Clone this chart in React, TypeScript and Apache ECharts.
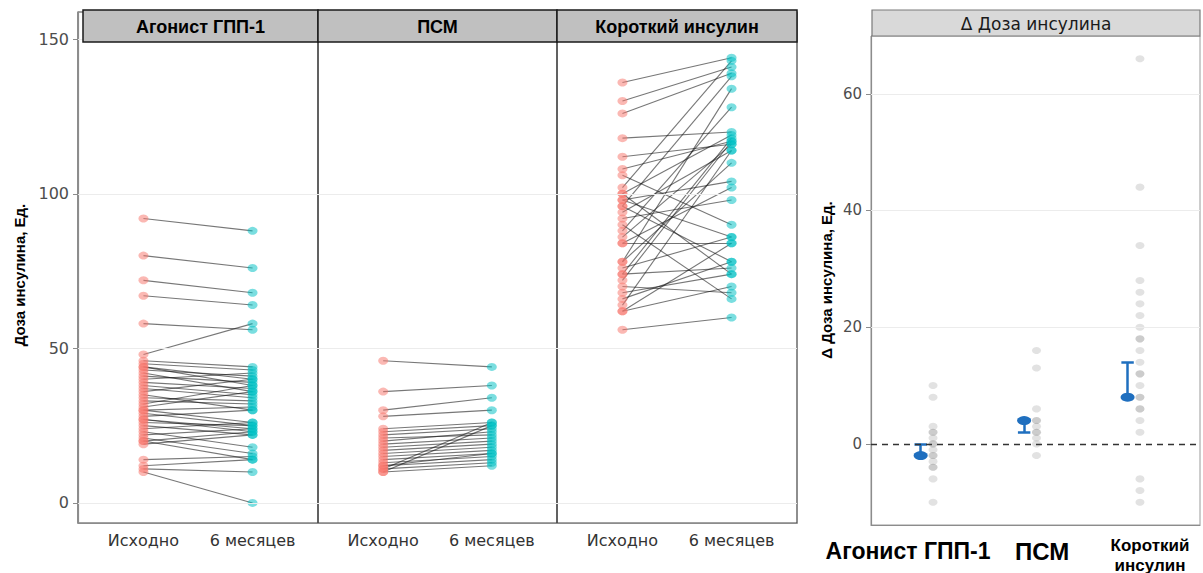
import React, { useEffect, useRef } from "react";
import * as echarts from "echarts";

const panelNames = ["Агонист ГПП-1", "ПСМ", "Короткий инсулин"];
const timeLabels = ["Исходно", "6 месяцев"];
const doseTicks = [0, 50, 100, 150];
const deltaTicks = [0, 20, 40, 60];
const doseAxisTitle = "Доза инсулина, Ед.";
const deltaAxisTitle = "Δ Доза инсулина, Ед.";
const deltaStripTitle = "Δ Доза инсулина";
const deltaCategoryLabels = ["Агонист ГПП-1", "ПСМ", "Короткий\nинсулин"];

const glpBaseline = [92, 80, 72, 67, 58, 48, 46, 45, 44, 44, 43, 42, 41, 40, 39, 38, 37, 36, 35, 34, 33, 32, 31, 30, 30, 29, 28, 27, 27, 26, 25, 24, 23, 22, 21, 20, 20, 19, 14, 12, 11, 10];
const glpSixMonths = [88, 76, 68, 64, 56, 58, 44, 43, 40, 38, 41, 36, 39, 42, 37, 35, 34, 40, 30, 33, 32, 38, 36, 31, 26, 25, 30, 24, 23, 25, 22, 26, 18, 24, 16, 23, 14, 22, 15, 14, 10, 0];

const psmBaseline = [46, 36, 30, 28, 24, 23, 22, 21, 20, 19, 18, 17, 16, 15, 14, 13, 12, 12, 11, 11, 10, 10];
const psmSixMonths = [44, 38, 34, 30, 26, 25, 24, 22, 23, 21, 20, 19, 18, 17, 16, 15, 14, 16, 26, 13, 25, 12];

const shortBaseline = [136, 130, 126, 118, 112, 108, 106, 102, 100, 98, 96, 94, 92, 88, 86, 84, 84, 78, 78, 76, 74, 72, 70, 68, 66, 64, 62, 62, 56, 90, 100, 96, 74, 98];
const shortSixMonths = [144, 141, 139, 120, 116, 117, 90, 143, 119, 104, 138, 114, 98, 128, 116, 84, 102, 134, 110, 86, 76, 117, 68, 74, 78, 114, 70, 84, 60, 66, 74, 78, 118, 86];

const glpDelta = [10, 8, 3, 2, 2, 1, 0, 0, -1, -2, -2, -3, -4, -4, -6, -10];
const psmDelta = [16, 13, 6, 4, 4, 3, 2, 2, 1, 0, -2];
const shortDelta = [66, 44, 34, 28, 26, 24, 22, 20, 18, 18, 16, 14, 12, 12, 10, 8, 8, 6, 6, 4, 2, -6, -8, -10];

const deltaPoint = [-2, 4, 8];
const deltaBarEnd = [0, 2, 14];

const FONT = "'DejaVu Sans', sans-serif";
const BOLD = "'Liberation Sans', Arial, sans-serif";
const RED = "#F8766D";
const CYAN = "#00BFC4";
const BLUE = "#1f6fbf";

function buildOption() {
  const panels = [
    { before: glpBaseline, after: glpSixMonths },
    { before: psmBaseline, after: psmSixMonths },
    { before: shortBaseline, after: shortSixMonths },
  ];
  const panelLeft = [78, 318, 557];
  const panelWidth = [240, 239, 240];
  const deltas = [glpDelta, psmDelta, shortDelta];

  const grid: any[] = panelLeft.map((l, i) => ({
    left: l,
    top: 12,
    width: panelWidth[i],
    height: 511,
    show: true,
    borderColor: "#444",
    borderWidth: 1.2,
    outerBoundsMode: "none",
  }));
  grid.push({
    left: 871,
    top: 36,
    width: 329,
    height: 489,
    show: true,
    borderColor: "#9a9a9a",
    borderWidth: 1,
    outerBoundsMode: "none",
  });

  const xAxis: any[] = panelLeft.map((_, i) => ({
    type: "value",
    gridIndex: i,
    min: -0.6,
    max: 1.6,
    splitLine: { show: false },
    axisTick: { show: false },
    axisLine: { show: true, onZero: false, lineStyle: { color: "#8c8c8c", width: 1.2 } },
    axisLabel: {
      customValues: [0, 1],
      formatter: (v: number) => (v === 0 ? timeLabels[0] : v === 1 ? timeLabels[1] : ""),
      fontFamily: FONT,
      fontSize: 16,
      color: "#333",
      margin: 9,
    },
  }));
  xAxis.push({
    type: "value",
    gridIndex: 3,
    min: -0.54,
    max: 2.64,
    splitLine: { show: false },
    axisTick: { show: false },
    axisLabel: { show: false },
    axisLine: { show: true, onZero: false, lineStyle: { color: "#8c8c8c", width: 1.2 } },
  });

  const yAxis: any[] = panelLeft.map((_, i) => ({
    type: "value",
    gridIndex: i,
    min: -6.5,
    max: 158.8,
    splitLine: { show: false },
    axisLine: { show: i === 0, onZero: false, lineStyle: { color: "#8c8c8c", width: 1.2 } },
    axisTick: { show: i === 0, customValues: doseTicks, length: 5, lineStyle: { color: "#8c8c8c" } },
    axisLabel: {
      show: i === 0,
      customValues: doseTicks,
      fontFamily: FONT,
      fontSize: 16,
      color: "#4d4d4d",
      margin: 9,
    },
  }));
  yAxis.push({
    type: "value",
    gridIndex: 3,
    min: -13.9,
    max: 69.9,
    splitLine: { show: false },
    axisLine: { show: true, onZero: false, lineStyle: { color: "#8c8c8c", width: 1.2 } },
    axisTick: { show: true, customValues: deltaTicks, length: 5, lineStyle: { color: "#8c8c8c" } },
    axisLabel: {
      customValues: deltaTicks,
      fontFamily: FONT,
      fontSize: 15,
      color: "#4d4d4d",
      margin: 9,
    },
  });

  const series: any[] = [];
  panels.forEach((p, i) => {
    series.push({
      type: "scatter",
      xAxisIndex: i,
      yAxisIndex: i,
      data: [],
      z: 1,
      silent: true,
      markLine: {
        silent: true,
        symbol: ["none", "none"],
        label: { show: false },
        lineStyle: { color: "#ececec", type: "solid", width: 1 },
        data: doseTicks.map((v) => ({ yAxis: v })),
      },
    });
    series.push({
      type: "lines",
      coordinateSystem: "cartesian2d",
      xAxisIndex: i,
      yAxisIndex: i,
      z: 2,
      silent: true,
      lineStyle: { color: "rgba(20,20,20,0.58)", width: 1.1, opacity: 1 },
      data: p.before.map((b, k) => ({ coords: [[0, b], [1, p.after[k]]] })),
    });
    series.push({
      type: "scatter",
      xAxisIndex: i,
      yAxisIndex: i,
      z: 3,
      symbolSize: [10, 8],
      itemStyle: { color: RED, opacity: 0.52 },
      data: p.before.map((b) => [0, b]),
    });
    series.push({
      type: "scatter",
      xAxisIndex: i,
      yAxisIndex: i,
      z: 3,
      symbolSize: [10, 8],
      itemStyle: { color: CYAN, opacity: 0.52 },
      data: p.after.map((a) => [1, a]),
    });
  });

  // right panel
  series.push({
    type: "scatter",
    xAxisIndex: 3,
    yAxisIndex: 3,
    data: [],
    z: 1,
    silent: true,
    markLine: {
      silent: true,
      symbol: ["none", "none"],
      label: { show: false },
      lineStyle: { color: "#ececec", type: "solid", width: 1 },
      data: deltaTicks.filter((v) => v !== 0).map((v) => ({ yAxis: v })),
    },
  });
  series.push({
    type: "scatter",
    xAxisIndex: 3,
    yAxisIndex: 3,
    data: [],
    z: 2,
    silent: true,
    markLine: {
      silent: true,
      symbol: ["none", "none"],
      label: { show: false },
      lineStyle: { color: "#333", type: [6, 5], width: 1.3 },
      data: [{ yAxis: 0 }],
    },
  });
  const grayPts: number[][] = [];
  deltas.forEach((arr, g) => arr.forEach((v) => grayPts.push([g + 0.06, v])));
  series.push({
    type: "scatter",
    xAxisIndex: 3,
    yAxisIndex: 3,
    z: 3,
    symbolSize: [9, 7],
    itemStyle: { color: "#8a8a8a", opacity: 0.25 },
    data: grayPts,
  });
  const barData: any[] = [];
  deltaPoint.forEach((pt, g) => {
    const x = g - 0.06;
    barData.push({ coords: [[x, pt], [x, deltaBarEnd[g]]] });
    barData.push({ coords: [[x - 0.06, deltaBarEnd[g]], [x + 0.06, deltaBarEnd[g]]] });
  });
  series.push({
    type: "lines",
    coordinateSystem: "cartesian2d",
    xAxisIndex: 3,
    yAxisIndex: 3,
    z: 4,
    silent: true,
    lineStyle: { color: BLUE, width: 2.5, opacity: 1 },
    data: barData,
  });
  series.push({
    type: "scatter",
    xAxisIndex: 3,
    yAxisIndex: 3,
    z: 5,
    symbol: "circle",
    symbolSize: [14, 9],
    itemStyle: { color: BLUE, opacity: 1 },
    data: deltaPoint.map((v, g) => [g - 0.06, v]),
  });

  const stripX = [83, 318, 557];
  const stripW = [235, 239, 240];
  const graphic: any[] = [];
  panelNames.forEach((name, i) => {
    graphic.push({
      type: "rect",
      z: 100,
      shape: { x: stripX[i], y: 10, width: stripW[i], height: 32 },
      style: { fill: "#c0c0c0", stroke: "#1a1a1a", lineWidth: 1.5 },
    });
    graphic.push({
      type: "text",
      z: 101,
      x: stripX[i] + stripW[i] / 2,
      y: 26.5,
      style: {
        text: name,
        fontFamily: BOLD,
        fontWeight: "bold",
        fontSize: 18,
        fill: "#000",
        align: "center",
        verticalAlign: "middle",
      },
    });
  });
  graphic.push({
    type: "rect",
    z: 100,
    shape: { x: 872, y: 10, width: 328, height: 26 },
    style: { fill: "#d9d9d9", stroke: "#7a7a7a", lineWidth: 1.2 },
  });
  graphic.push({
    type: "text",
    z: 101,
    x: 1036,
    y: 23.5,
    style: {
      text: deltaStripTitle,
      fontFamily: FONT,
      fontSize: 17,
      fill: "#1a1a1a",
      align: "center",
      verticalAlign: "middle",
    },
  });
  graphic.push({
    type: "text",
    z: 101,
    x: 19,
    y: 275,
    rotation: Math.PI / 2,
    style: {
      text: doseAxisTitle,
      fontFamily: BOLD,
      fontWeight: "bold",
      fontSize: 15,
      fill: "#000",
      align: "center",
      verticalAlign: "middle",
    },
  });
  graphic.push({
    type: "text",
    z: 101,
    x: 826,
    y: 280,
    rotation: Math.PI / 2,
    style: {
      text: deltaAxisTitle,
      fontFamily: BOLD,
      fontWeight: "bold",
      fontSize: 15,
      fill: "#000",
      align: "center",
      verticalAlign: "middle",
    },
  });
  const catX = [908, 1042, 1150];
  const catY = [551, 551, 555];
  const catSize = [23, 24, 17];
  deltaCategoryLabels.forEach((t, i) => {
    graphic.push({
      type: "text",
      z: 101,
      x: catX[i],
      y: catY[i],
      style: {
        text: t,
        fontFamily: BOLD,
        fontWeight: "bold",
        fontSize: catSize[i],
        lineHeight: 20,
        fill: "#000",
        align: "center",
        verticalAlign: "middle",
      },
    });
  });

  return {
    animation: false,
    backgroundColor: "#fff",
    grid,
    xAxis,
    yAxis,
    series,
    graphic,
  };
}

export default function App() {
  const ref = useRef<HTMLDivElement>(null);
  useEffect(() => {
    if (!ref.current) return;
    const chart = echarts.init(ref.current, undefined, { renderer: "svg" });
    chart.setOption(buildOption() as any);
    return () => chart.dispose();
  }, []);
  return (
    <div
      ref={ref}
      style={{ position: "fixed", left: 0, top: 0, width: 1203, height: 573 }}
    />
  );
}
